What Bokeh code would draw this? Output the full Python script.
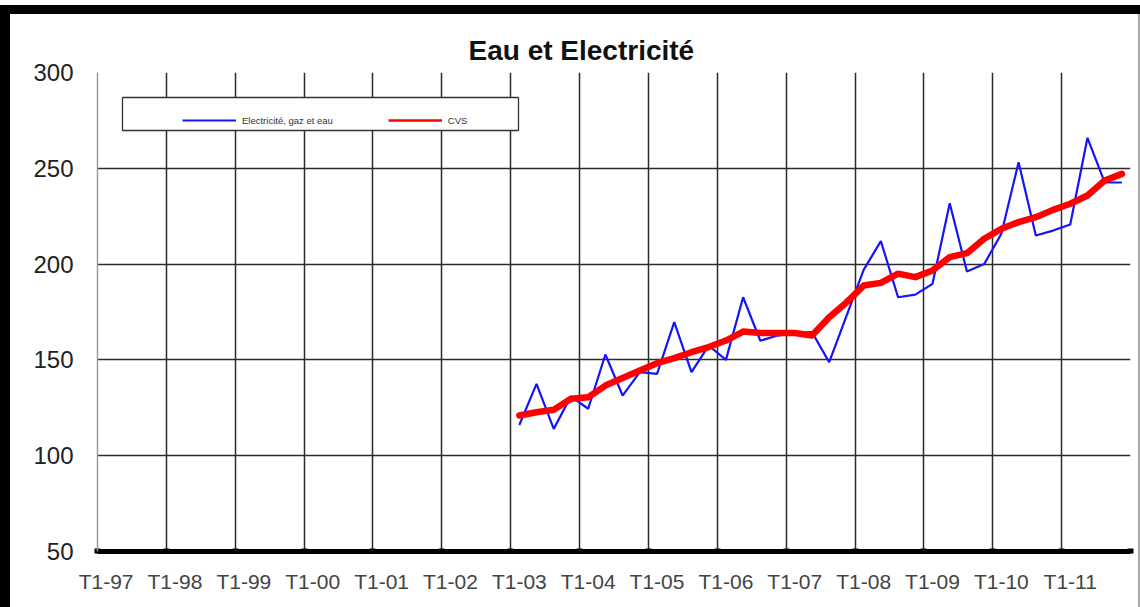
from bokeh.plotting import figure
from bokeh.models import (Range1d, FixedTicker, Legend, LegendItem, BoxAnnotation)
from bokeh.embed import file_html
from bokeh.resources import INLINE

# ---------------- data ----------------
years = ["97", "98", "99", "00", "01", "02", "03", "04", "05", "06", "07", "08", "09", "10", "11"]
quarters = [f"T{q}-{y}" for y in years for q in (1, 2, 3, 4)]
year_labels = [f"T1-{y}" for y in years]
series_start = "T1-03"

elec_gaz_eau = [116, 137.5, 114, 131, 124.5, 152.8, 131.4, 143.6, 142.7, 169.7,
                143.6, 157.5, 150, 182.7, 160, 162.7, 164, 164.5, 148.8, 172.8,
                197, 212, 182.7, 184.1, 189.7, 231.8, 196.1, 200, 215.8, 253.2,
                214.9, 217.5, 220.7, 265.9, 242.7, 242.6]
cvs = [121, 122.7, 124, 129.7, 130.5, 136.6, 140.5, 144.5, 148.3, 150.9,
       154, 156.7, 160.1, 164.8, 164, 164, 164, 162.7, 172.3, 180,
       188.8, 190.2, 195, 193.2, 196.7, 203.6, 205.7, 213.2, 218.4, 221.9,
       224.5, 228.3, 231.5, 235.8, 243.6, 247.1]
y_ticks = [50, 100, 150, 200, 250, 300]

# category centres (each quarter is one unit wide)
start = quarters.index(series_start)
xs = [start + i + 0.5 for i in range(len(cvs))]
n_cat = len(quarters)
year_bounds = list(range(0, n_cat + 1, 4))
label_pos = [b + 0.5 for b in year_bounds[:-1]]

FONT = "Liberation Sans"
BLUE = "#1414ff"
RED = "#ff0000"

p = figure(width=1140, height=607, output_backend="svg", toolbar_location=None,
           x_range=Range1d(0, n_cat), y_range=Range1d(50, 300),
           min_border_left=97, min_border_right=10, min_border_top=72, min_border_bottom=56,
           background_fill_color="white", border_fill_color="white", border_fill_alpha=0)
p.outline_line_color = None
# black picture frame (top and left bands) shown through the transparent border area
p.styles = {"box-shadow": "inset 0 5px 0 0 white, inset 10px 0 0 0 black, "
                          "inset 0 14px 0 0 black, inset -2px 0 0 0 #a8a8a8",
            "background-color": "white"}

# title
p.title.text = "Eau et Electricité"
p.title.text_font = FONT
p.title.text_font_size = "28px"
p.title.text_font_style = "bold"
p.title.text_color = "#111111"
p.title.align = "left"
p.title.offset = 371
p.title.standoff = 14

# grids
p.xgrid.ticker = FixedTicker(ticks=year_bounds)
p.ygrid.ticker = FixedTicker(ticks=y_ticks)
for g in (p.xgrid, p.ygrid):
    g.grid_line_color = "#2b2b2b"
    g.grid_line_width = 1.5

# x axis
xa = p.xaxis[0]
xa.ticker = FixedTicker(ticks=label_pos, minor_ticks=year_bounds)
xa.major_label_overrides = {pos: lab for pos, lab in zip(label_pos, year_labels)}
xa.axis_line_color = "black"
xa.axis_line_width = 5
xa.major_tick_line_color = None
xa.minor_tick_line_color = "black"
xa.minor_tick_line_width = 6
xa.minor_tick_in = 3
xa.minor_tick_out = 2
xa.major_label_standoff = 12
xa.major_label_text_font = FONT
xa.major_label_text_font_size = "21px"
xa.major_label_text_color = "#444444"

# y axis
ya = p.yaxis[0]
ya.ticker = FixedTicker(ticks=y_ticks)
ya.axis_line_color = "#9a9a9a"
ya.axis_line_width = 1.5
ya.major_tick_line_color = None
ya.minor_tick_line_color = None
ya.major_label_standoff = 18
ya.major_label_text_font = FONT
ya.major_label_text_font_size = "24px"
ya.major_label_text_color = "#222222"

# lines
r_blue = p.line(xs, elec_gaz_eau, line_color=BLUE, line_width=2.2)
r_red = p.line(xs, cvs, line_color=RED, line_width=6.5, line_join="round", line_cap="round")

# legend-only glyphs (thin samples as in the original legend)
nan = float("nan")
lg_blue = p.line([nan], [nan], line_color=BLUE, line_width=2)
lg_red = p.line([nan], [nan], line_color=RED, line_width=2.5)

# legend box
box = BoxAnnotation(left=25, right=421, top=454, bottom=421,
                    left_units="screen", right_units="screen",
                    top_units="screen", bottom_units="screen",
                    fill_color="white", fill_alpha=1.0,
                    line_color="#333333", line_alpha=1.0, line_width=1.3, level="overlay")
p.add_layout(box)

legend = Legend(items=[LegendItem(label="Electricité, gaz et eau", renderers=[lg_blue]),
                       LegendItem(label="CVS", renderers=[lg_red])],
                location=(85, 423), orientation="horizontal",
                border_line_color=None, background_fill_alpha=0,
                padding=5, margin=0, spacing=55, glyph_width=54, glyph_height=16,
                label_standoff=6, label_text_font=FONT, label_text_font_size="9.5px",
                label_text_color="#333333", label_height=16)
legend.level = "overlay"
p.add_layout(legend, "center")

open("out.html", "w").write(file_html(p, INLINE))
